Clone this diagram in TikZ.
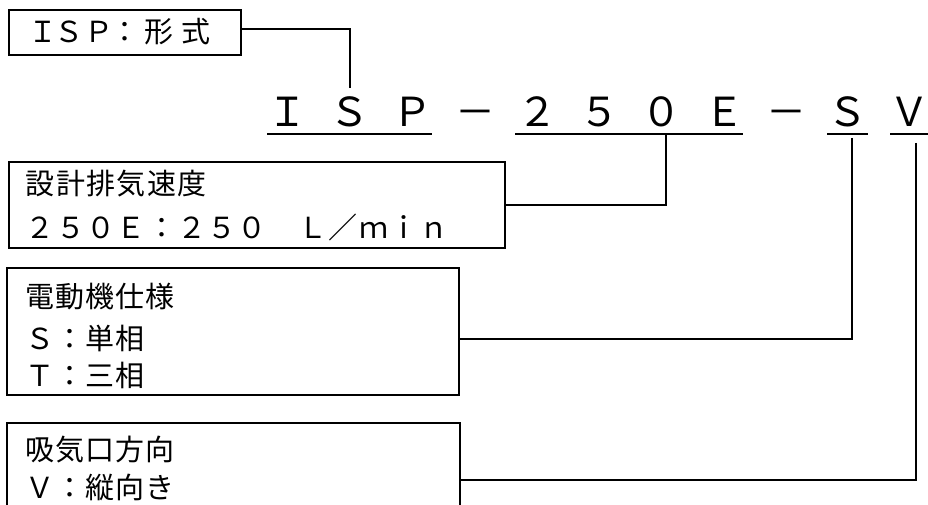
\documentclass[tikz,border=0pt]{standalone}
\usepackage{fontspec}
\setmainfont{Noto Sans CJK JP}
\newcommand\spcw{30pt}
\newcommand\spcrow[2]{\def\spcw{#1}\spcloop#2\relax}
\def\spcloop#1{\ifx#1\relax\else\makebox[\spcw][c]{#1}\expandafter\spcloop\fi}
\begin{document}
\begin{tikzpicture}[x=1pt,y=-1pt,
  box/.style={draw, line width=1.6pt, rectangle, inner sep=0pt},
  wire/.style={draw, line width=1.4pt},
  code/.style={font=\fontsize{40}{40}\selectfont, inner sep=0pt, anchor=base},
  hdr/.style={font=\fontsize{29}{29}\selectfont, inner sep=0pt, anchor=base},
  lbl/.style={font=\fontsize{29}{29}\selectfont, inner sep=0pt, anchor=base west},
  uline/.style={line width=2pt}]
\useasboundingbox (0,0) rectangle (928,505);
\clip (0,0) rectangle (928,505);
\fill[white] (0,0) rectangle (928,505);

% boxes
\node[box, minimum width=232pt, minimum height=45pt] (b1) at (125,32.5) {};
\node[box, minimum width=496pt, minimum height=86pt] (b2) at (257,205) {};
\node[box, minimum width=452pt, minimum height=127pt] (b3) at (233,331.5) {};
\node[box, minimum width=453pt, minimum height=107pt] (b4) at (233.5,476.5) {};

% box 1 text
\node[hdr] (h1) at (43,43) {Ｉ};
\node[hdr] (h2) at (69,43) {Ｓ};
\node[hdr] (h3) at (98.5,43) {Ｐ};
\node[hdr] (h4) at (125,43) {：};
\node[hdr] (h5) at (158.5,43) {形};
\node[hdr] (h6) at (195.5,43) {式};

% box 2 text
\node[lbl] (t21) at (25,194) {\spcrow{30.3pt}{設計排気速度}};
\node[lbl] (t22) at (25,238) {\spcrow{30.3pt}{２５０Ｅ：２５０　Ｌ／ｍｉｎ}};
% box 3 text
\node[lbl] (t31) at (25,307) {\spcrow{30pt}{電動機仕様}};
\node[lbl] (t32) at (25,349) {\spcrow{30pt}{Ｓ：単相}};
\node[lbl] (t33) at (25,386) {\spcrow{30pt}{Ｔ：三相}};
% box 4 text
\node[lbl] (t41) at (25,460) {\spcrow{30pt}{吸気口方向}};
\node[lbl] (t42) at (25,498) {\spcrow{30pt}{Ｖ：縦向き}};

% model code
\node[code] (c1) at (287,127) {Ｉ};
\node[code] (c2) at (349,127) {Ｓ};
\node[code] (c3) at (412,127) {Ｐ};
\node[code] (c4) at (475,127) {－};
\node[code] (c5) at (537,127) {２};
\node[code] (c6) at (599,127) {５};
\node[code] (c7) at (661,127) {０};
\node[code] (c8) at (724,127) {Ｅ};
\node[code] (c9) at (786,127) {－};
\node[code] (c10) at (847,127) {Ｓ};
\node[code] (c11) at (909,127) {Ｖ};

% underlines
\draw[uline] (267,134) -- (432,134);
\draw[uline] (515,134) -- (743,134);
\draw[uline] (827,134) -- (868,134);
\draw[uline] (890,134) -- (928,134);

% connector end points
\coordinate (pI) at (350,88);
\coordinate (p0) at (666,134);
\coordinate (pS) at (852,138);
\coordinate (pV) at (916,143);
\coordinate (e1) at (241,29);
\coordinate (e3) at (459,339);
\coordinate (e4) at (460,480);

% connectors
\draw[wire] (e1) -| (pI);
\draw[wire] (p0) |- (b2.east);
\draw[wire] (pS) |- (e3);
\draw[wire] (pV) |- (e4);
\end{tikzpicture}
\end{document}
